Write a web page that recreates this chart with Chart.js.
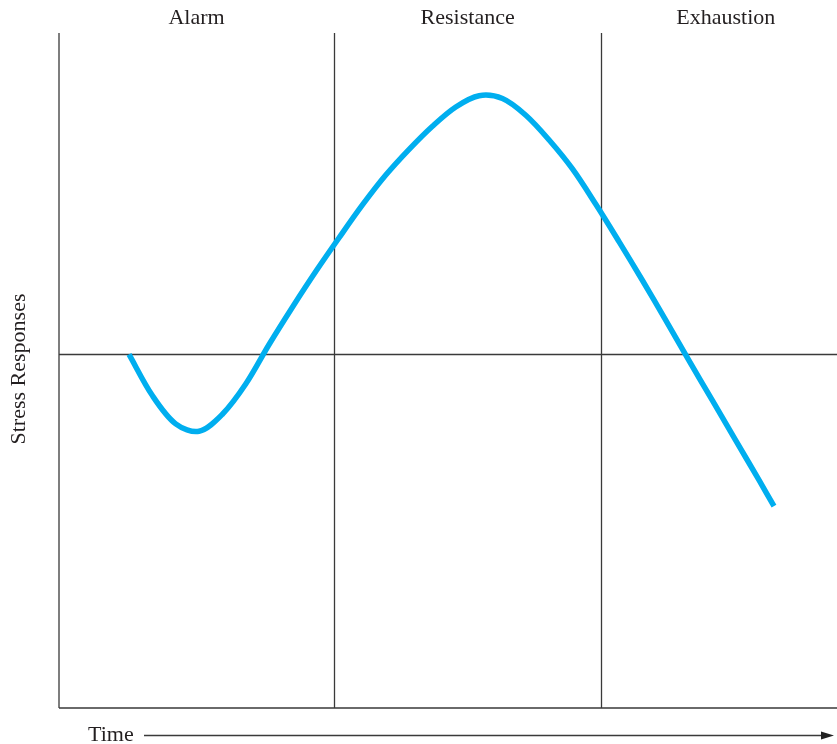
<!DOCTYPE html>
<html>
<head>
<meta charset="utf-8">
<script src="https://cdn.jsdelivr.net/npm/chart.js@4/dist/chart.umd.min.js"></script>
<style>
  html, body { margin: 0; padding: 0; background: #fff; }
  #wrap { width: 837px; height: 744px; }
</style>
</head>
<body>
<div id="wrap"><canvas id="c" width="837" height="744"></canvas></div>
<script>
// ---- Data ----
const stageNames = ["Alarm", "Resistance", "Exhaustion"];
const stageBoundaries = [0, 35.35, 69.7, 101.7];   // time units
const baselineLevel = 0;
const timeValues   = [9, 12, 15, 18, 21, 24, 27, 30, 33, 36, 39, 42, 45, 48, 51, 54, 57, 60, 63, 66, 69, 72, 75, 78, 81, 84, 87, 90, 91.9];
const stressValues = [0, -12.8, -21.6, -23.9, -18.6, -9.2, 3.1, 14.7, 25.8, 36.3, 46.5, 55.8, 63.8, 71.0, 77.0, 80.5, 79.6, 74.4, 66.7, 57.7, 46.7, 35.0, 23.0, 10.6, -2.0, -14.4, -26.8, -39.2, -47.2];
const yAxisTitle = "Stress Responses";
const xAxisTitle = "Time";

const points = timeValues.map((t, i) => ({ x: t, y: stressValues[i] }));

const FONT = '22px "Liberation Serif", "DejaVu Serif", serif';
const INK = '#231f20';
const LINE = '#3a3a3a';

const framePlugin = {
  id: 'frame',
  beforeDatasetsDraw(chart) {
    const { ctx, chartArea: a, scales: { x, y } } = chart;
    ctx.save();
    ctx.strokeStyle = LINE;
    ctx.lineWidth = 1.3;
    ctx.beginPath();
    ctx.moveTo(a.left, a.top); ctx.lineTo(a.left, a.bottom);
    ctx.moveTo(a.left, a.bottom); ctx.lineTo(a.right, a.bottom);
    const by = Math.round(y.getPixelForValue(baselineLevel)) + 0.5;
    ctx.moveTo(a.left, by); ctx.lineTo(a.right, by);
    for (let i = 1; i < stageBoundaries.length - 1; i++) {
      const px = Math.round(x.getPixelForValue(stageBoundaries[i])) + 0.5;
      ctx.moveTo(px, a.top); ctx.lineTo(px, a.bottom);
    }
    ctx.stroke();
    ctx.restore();
  },
  afterDraw(chart) {
    const { ctx, scales: { x } } = chart;
    ctx.save();
    ctx.fillStyle = INK;
    ctx.font = FONT;
    ctx.textAlign = 'center';
    ctx.textBaseline = 'middle';
    for (let i = 0; i < stageNames.length; i++) {
      const mid = (stageBoundaries[i] + stageBoundaries[i + 1]) / 2;
      ctx.fillText(stageNames[i], x.getPixelForValue(mid), 18);
    }
    ctx.save();
    ctx.translate(19, 369);
    ctx.rotate(-Math.PI / 2);
    ctx.fillText(yAxisTitle, 0, 0);
    ctx.restore();
    ctx.textAlign = 'left';
    ctx.fillText(xAxisTitle, 88, 735);
    ctx.strokeStyle = LINE;
    ctx.lineWidth = 1.3;
    ctx.beginPath();
    ctx.moveTo(144, 735.5);
    ctx.lineTo(826, 735.5);
    ctx.stroke();
    ctx.fillStyle = '#222';
    ctx.beginPath();
    ctx.moveTo(834, 735.5);
    ctx.lineTo(821, 731.5);
    ctx.lineTo(821, 739.5);
    ctx.closePath();
    ctx.fill();
    ctx.restore();
  }
};

new Chart(document.getElementById('c'), {
  type: 'line',
  data: {
    datasets: [{
      data: points,
      borderColor: '#00aeef',
      borderWidth: 5.5,
      pointRadius: 0,
      tension: 0.33,
      fill: false,
      borderCapStyle: 'butt',
      borderJoinStyle: 'round'
    }]
  },
  options: {
    responsive: false,
    animation: false,
    devicePixelRatio: 1,
    layout: { padding: { left: 59, right: 0, top: 33, bottom: 36 } },
    plugins: { legend: { display: false }, tooltip: { enabled: false } },
    scales: {
      x: { type: 'linear', min: 0, max: 100, display: false },
      y: { type: 'linear', min: -110, max: 100, display: false }
    }
  },
  plugins: [framePlugin]
});
</script>
</body>
</html>
